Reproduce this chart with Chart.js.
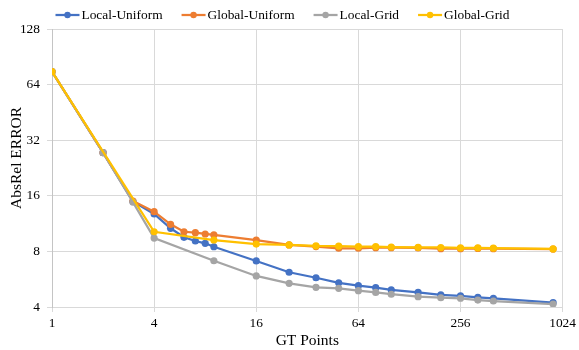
<!DOCTYPE html>
<html>
<head>
<meta charset="utf-8">
<script src="https://cdn.jsdelivr.net/npm/chart.js@4"></script>
<style>
  html, body { margin: 0; padding: 0; background: #ffffff; }
  #wrap { width: 579px; height: 350px; }
</style>
</head>
<body>
<div id="wrap"><canvas id="c" width="579" height="350"></canvas></div>
<script>
// ---- data ----
const seriesNames = ['Local-Uniform', 'Global-Uniform', 'Local-Grid', 'Global-Grid'];
const seriesColors = ['#4472C4', '#ED7D31', '#A5A5A5', '#FFC000'];

const xUniform = [1, 2, 3, 4, 5, 6, 7, 8, 9, 16, 25, 36, 49, 64, 81, 100, 144, 196, 256, 324, 400, 900];
const localUniform = [75.2, 27.4, 14.9, 12.75, 10.67, 9.54, 9.11, 8.85, 8.48, 7.10, 6.17, 5.76, 5.41, 5.22, 5.09, 4.95, 4.80, 4.65, 4.60, 4.51, 4.46, 4.22];
const globalUniform = [75.2, 27.4, 15.0, 13.13, 11.21, 10.22, 10.10, 9.94, 9.82, 9.22, 8.67, 8.50, 8.32, 8.32, 8.38, 8.38, 8.35, 8.28, 8.28, 8.30, 8.28, 8.24];

const xLocalGrid = [1, 2, 3, 4, 9, 16, 25, 36, 49, 64, 81, 100, 144, 196, 256, 324, 400, 900];
const localGrid = [75.2, 27.4, 14.8, 9.45, 7.12, 5.89, 5.37, 5.11, 5.05, 4.90, 4.80, 4.69, 4.55, 4.49, 4.46, 4.36, 4.31, 4.15];

const xGlobalGrid = [1, 4, 9, 16, 25, 36, 49, 64, 81, 100, 144, 196, 256, 324, 400, 900];
const globalGrid = [75.2, 10.22, 9.22, 8.77, 8.67, 8.56, 8.54, 8.50, 8.50, 8.45, 8.42, 8.40, 8.35, 8.35, 8.33, 8.25];

const xTicks = [1, 4, 16, 64, 256, 1024];
const yTicks = [4, 8, 16, 32, 64, 128];
const xTitle = 'GT Points';
const yTitle = 'AbsRel ERROR';

// ---- build ----
const FONT = '"Liberation Serif", "Times New Roman", serif';
const FS = 13.4;
const TFS = 15.5;
function pts(xs, ys) { return xs.map((x, i) => ({ x: x, y: ys[i] })); }
const seriesX = [xUniform, xUniform, xLocalGrid, xGlobalGrid];
const seriesY = [localUniform, globalUniform, localGrid, globalGrid];

const datasets = seriesNames.map((name, i) => ({
  label: name,
  data: pts(seriesX[i], seriesY[i]),
  borderColor: seriesColors[i],
  backgroundColor: seriesColors[i],
  borderWidth: 2.25,
  pointRadius: 3.6,
  pointBorderWidth: 0,
  pointHoverRadius: 3.6,
  tension: 0,
  order: 4 - i
}));

const legendPlugin = {
  id: 'topLegend',
  afterDraw(chart) {
    const ctx = chart.ctx;
    ctx.save();
    ctx.font = FS + 'px ' + FONT;
    const lineW = 24, gapText = 2, gapItem = 19;
    const widths = seriesNames.map(n => ctx.measureText(n).width);
    const total = widths.reduce((a, w) => a + lineW + gapText + w, 0) + gapItem * (seriesNames.length - 1);
    let x = 282.5 - total / 2;
    const y = 15;
    seriesNames.forEach((n, i) => {
      ctx.strokeStyle = seriesColors[i];
      ctx.lineWidth = 2.25;
      ctx.beginPath(); ctx.moveTo(x, y); ctx.lineTo(x + lineW, y); ctx.stroke();
      ctx.fillStyle = seriesColors[i];
      ctx.beginPath(); ctx.arc(x + lineW / 2, y, 3.2, 0, Math.PI * 2); ctx.fill();
      ctx.fillStyle = '#000000';
      ctx.textBaseline = 'middle';
      ctx.textAlign = 'left';
      ctx.fillText(n, x + lineW + gapText, y + 0.5);
      x += lineW + gapText + widths[i] + gapItem;
    });
    // y axis title
    ctx.font = TFS + 'px ' + FONT;
    ctx.translate(17, 158);
    ctx.rotate(-Math.PI / 2);
    ctx.textAlign = 'center';
    ctx.textBaseline = 'middle';
    ctx.fillText(yTitle, 0, 0);
    ctx.restore();
  }
};

Chart.defaults.font.family = FONT;
Chart.defaults.font.size = FS;
Chart.defaults.color = '#000000';

new Chart(document.getElementById('c'), {
  type: 'line',
  data: { datasets: datasets },
  options: {
    responsive: false,
    animation: false,
    devicePixelRatio: 1,
    layout: { padding: { top: 29, right: 14, bottom: 0, left: 0 } },
    plugins: { legend: { display: false }, tooltip: { enabled: false } },
    scales: {
      x: {
        type: 'logarithmic',
        min: 1, max: 1024,
        afterBuildTicks: s => { s.ticks = xTicks.map(v => ({ value: v })); },
        afterFit: s => { s.height = 43; },
        ticks: { callback: v => String(v), padding: 3, maxRotation: 0, autoSkip: false },
        grid: { color: '#d9d9d9', lineWidth: 1, tickLength: 5 },
        border: { color: '#d9d9d9' },
        title: { display: true, text: xTitle, padding: { top: 1, bottom: 0 }, font: { size: TFS } }
      },
      y: {
        type: 'logarithmic',
        min: 4, max: 128,
        afterBuildTicks: s => { s.ticks = yTicks.map(v => ({ value: v })); },
        afterFit: s => { s.width = 52; },
        ticks: { callback: v => String(v), padding: 7, autoSkip: false },
        grid: { color: '#d9d9d9', lineWidth: 1, tickLength: 5 },
        border: { color: '#c4c4c4' },
        title: { display: false }
      }
    }
  },
  plugins: [legendPlugin]
});
</script>
</body>
</html>
